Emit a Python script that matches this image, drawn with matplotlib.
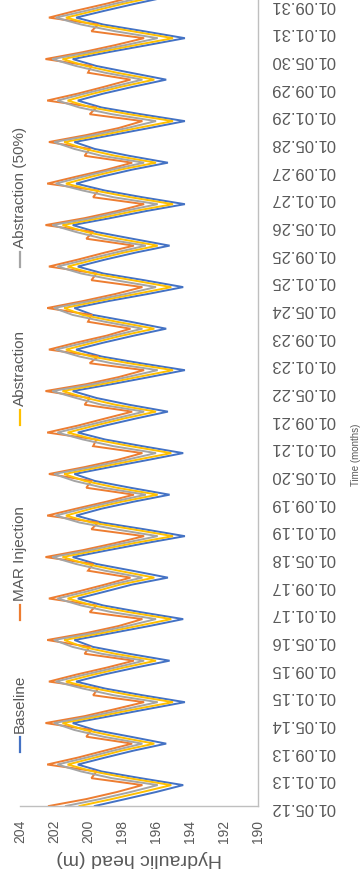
import matplotlib
matplotlib.use("Agg")
import matplotlib.pyplot as plt
import matplotlib.dates as mdates
from matplotlib.lines import Line2D
import pandas as pd

W, H = 363, 883
plt.rcParams["font.family"] = ["Liberation Sans", "DejaVu Sans"]

# bimonthly model output, one row per year: May Jul Sep Nov Jan Mar
dates = pd.date_range("2012-05-01", periods=120, freq="2MS")

baseline = [
    199.6, 197.8, 196.0, 194.4, 196.9, 199.2,
    200.6, 199.0, 197.3, 195.4, 197.5, 199.6,
    200.9, 198.7, 196.5, 194.3, 196.8, 199.0,
    200.7, 199.1, 197.2, 195.2, 197.6, 199.7,
    200.8, 198.6, 196.4, 194.4, 196.9, 199.1,
    200.6, 199.0, 197.4, 195.3, 197.4, 199.5,
    200.9, 198.8, 196.6, 194.3, 196.7, 199.2,
    200.7, 199.2, 197.3, 195.2, 197.5, 199.6,
    200.8, 198.7, 196.5, 194.4, 196.8, 199.0,
    200.6, 199.0, 197.2, 195.3, 197.6, 199.5,
    200.9, 198.6, 196.4, 194.3, 196.9, 199.2,
    200.7, 199.1, 197.3, 195.4, 197.5, 199.7,
    200.8, 198.8, 196.5, 194.4, 196.7, 199.1,
    200.6, 199.0, 197.2, 195.2, 197.4, 199.5,
    200.9, 198.7, 196.6, 194.3, 196.8, 199.0,
    200.7, 199.2, 197.4, 195.3, 197.6, 199.6,
    200.8, 198.6, 196.4, 194.3, 196.9, 199.2,
    200.6, 199.1, 197.3, 195.4, 197.5, 199.5,
    200.9, 198.8, 196.5, 194.3, 196.7, 199.1,
    200.7, 199.0, 197.2, 195.3, 197.4, 199.6,
]

mar_injection = [
    202.3, 200.1, 198.3, 196.8, 199.8, 199.5,
    202.4, 200.6, 199.0, 197.4, 200.1, 199.8,
    202.5, 200.2, 198.4, 196.7, 199.7, 199.4,
    202.3, 200.7, 198.9, 197.3, 200.2, 199.9,
    202.4, 200.1, 198.2, 196.8, 199.9, 199.5,
    202.3, 200.6, 199.0, 197.5, 200.0, 199.7,
    202.5, 200.3, 198.4, 196.7, 199.8, 199.4,
    202.4, 200.7, 198.9, 197.3, 200.1, 199.8,
    202.3, 200.2, 198.3, 196.8, 199.7, 199.5,
    202.4, 200.6, 199.0, 197.4, 200.2, 199.9,
    202.5, 200.1, 198.2, 196.7, 199.9, 199.4,
    202.3, 200.7, 198.9, 197.5, 200.0, 199.8,
    202.4, 200.3, 198.4, 196.8, 199.8, 199.5,
    202.3, 200.6, 199.0, 197.3, 200.1, 199.7,
    202.5, 200.2, 198.3, 196.7, 199.7, 199.4,
    202.4, 200.7, 198.9, 197.4, 200.2, 199.9,
    202.3, 200.1, 198.2, 196.8, 199.9, 199.5,
    202.4, 200.6, 199.0, 197.5, 200.0, 199.8,
    202.5, 200.3, 198.4, 196.7, 199.8, 199.4,
    202.3, 200.7, 198.9, 197.3, 200.1, 199.7,
]

abstraction = [
    200.5, 198.6, 196.8, 195.1, 197.6, 199.7,
    201.2, 199.6, 198.0, 196.1, 198.3, 200.2,
    201.5, 199.3, 197.2, 195.0, 197.5, 199.6,
    201.3, 199.7, 197.9, 196.0, 198.4, 200.3,
    201.4, 199.2, 197.1, 195.1, 197.6, 199.7,
    201.2, 199.6, 198.1, 196.1, 198.2, 200.1,
    201.5, 199.4, 197.3, 195.0, 197.4, 199.8,
    201.3, 199.8, 198.0, 195.9, 198.3, 200.2,
    201.4, 199.3, 197.2, 195.1, 197.5, 199.6,
    201.2, 199.6, 197.9, 196.0, 198.4, 200.1,
    201.5, 199.2, 197.1, 195.0, 197.6, 199.8,
    201.3, 199.7, 198.0, 196.1, 198.3, 200.3,
    201.4, 199.4, 197.2, 195.1, 197.4, 199.7,
    201.2, 199.6, 197.9, 195.9, 198.2, 200.1,
    201.5, 199.3, 197.3, 195.0, 197.5, 199.6,
    201.3, 199.8, 198.1, 196.0, 198.4, 200.2,
    201.4, 199.2, 197.1, 195.0, 197.6, 199.8,
    201.2, 199.7, 198.0, 196.1, 198.3, 200.1,
    201.5, 199.4, 197.2, 195.0, 197.4, 199.7,
    201.3, 199.6, 197.9, 196.0, 198.2, 200.3,
]

abstraction_50 = [
    201.3, 199.3, 197.5, 195.9, 198.6, 200.4,
    201.8, 200.1, 198.5, 196.8, 199.1, 200.8,
    202.0, 199.8, 197.8, 195.9, 198.5, 200.3,
    201.9, 200.2, 198.4, 196.7, 199.2, 200.9,
    202.0, 199.7, 197.7, 196.0, 198.6, 200.4,
    201.8, 200.1, 198.6, 196.8, 199.0, 200.7,
    202.1, 199.9, 197.9, 195.9, 198.4, 200.5,
    201.9, 200.3, 198.5, 196.6, 199.1, 200.8,
    202.0, 199.8, 197.8, 196.0, 198.5, 200.3,
    201.8, 200.1, 198.4, 196.7, 199.2, 200.7,
    202.1, 199.7, 197.7, 195.9, 198.6, 200.5,
    201.9, 200.2, 198.5, 196.8, 199.0, 200.9,
    202.0, 199.9, 197.8, 196.0, 198.4, 200.4,
    201.8, 200.1, 198.4, 196.6, 199.1, 200.7,
    202.1, 199.8, 197.9, 195.9, 198.5, 200.3,
    201.9, 200.3, 198.6, 196.7, 199.2, 200.8,
    202.0, 199.7, 197.7, 196.0, 198.6, 200.5,
    201.8, 200.2, 198.5, 196.8, 199.0, 200.7,
    202.1, 199.9, 197.8, 195.9, 198.4, 200.4,
    201.9, 200.1, 198.4, 196.6, 199.1, 200.9,
]

series = [
    ("Baseline", baseline, "#4472C4"),
    ("MAR Injection", mar_injection, "#ED7D31"),
    ("Abstraction", abstraction, "#FFC000"),
    ("Abstraction (50%)", abstraction_50, "#A5A5A5"),
]

head_ticks = [204, 202, 200, 198, 196, 194, 192, 190]
date_ticks = pd.date_range("2012-05-01", "2031-09-01", freq="8MS")

TXT = "#595959"
GRID = "#BFBFBF"


def px(x, y):
    """pixel position (from top-left) -> figure fraction"""
    return x / W, 1 - y / H


fig = plt.figure(figsize=(W / 100, H / 100), dpi=100)
fig.patch.set_facecolor("white")

# chart is laid out sideways: head runs right-to-left, time runs upwards
ax = fig.add_axes([20 / W, 77 / H, 238 / W, 806 / H])
for name, vals, col in series:
    ax.plot(vals, dates, color=col, lw=1.4, solid_joinstyle="miter")

ax.set_xlim(204, 190)
ax.set_ylim(pd.Timestamp("2012-05-01"), pd.Timestamp("2031-10-03"))

for s in ("left", "top"):
    ax.spines[s].set_visible(False)
for s in ("bottom", "right"):
    ax.spines[s].set_color(GRID)
    ax.spines[s].set_linewidth(1.0)

ax.set_xticks(head_ticks)
ax.set_xticklabels([str(t) for t in head_ticks], rotation=90)
ax.tick_params(axis="x", length=0, pad=10, labelsize=10, labelcolor=TXT)

ax.yaxis.tick_right()
ax.set_yticks(date_ticks)
ax.yaxis.set_major_formatter(mdates.DateFormatter("%d.%m.%y"))
ax.tick_params(axis="y", length=0, pad=9, labelsize=12, labelcolor=TXT)
for lbl in ax.get_yticklabels():
    lbl.set_rotation(180)

ax.set_xlabel("Hydraulic head (m)", fontsize=14, color=TXT, rotation=180,
              labelpad=5)

fig.text(*px(356, 455), "Time (months)", rotation=90, fontsize=7,
         color=TXT, ha="center", va="center")

# legend, written bottom-to-top along the left edge
legend_pos = [752, 620, 425, 267]
for (name, vals, col), y0 in zip(series, legend_pos):
    (xa, ya), (xb, yb) = px(20, y0), px(20, y0 - 15)
    fig.add_artist(Line2D([xa, xb], [ya, yb], color=col, lw=1.6,
                          transform=fig.transFigure))
    fig.text(*px(20, y0 - 19), name, rotation=90, fontsize=11, color=TXT,
             ha="center", va="bottom")

fig.savefig("out.png", dpi=100, facecolor="white")
